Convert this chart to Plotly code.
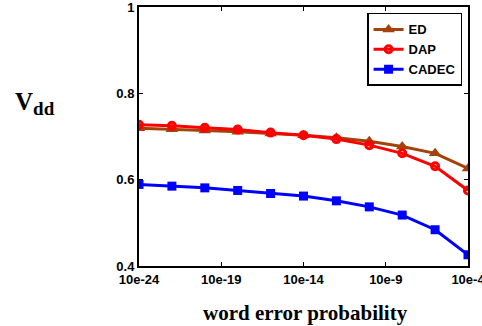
import plotly.graph_objects as go

x_vals = [1e-24, 1e-22, 1e-20, 1e-18, 1e-16, 1e-14, 1e-12, 1e-10, 1e-8, 1e-6, 1e-4]
ed = [0.719, 0.717, 0.714, 0.711, 0.707, 0.703, 0.697, 0.689, 0.677, 0.661, 0.626]
dap = [0.727, 0.725, 0.720, 0.716, 0.709, 0.703, 0.694, 0.680, 0.661, 0.631, 0.575]
cadec = [0.589, 0.585, 0.581, 0.575, 0.568, 0.562, 0.551, 0.537, 0.518, 0.484, 0.426]
x_tickvals = [1e-24, 1e-19, 1e-14, 1e-9, 1e-4]
x_ticktext = ["10e-24", "10e-19", "10e-14", "10e-9", "10e-4"]
y_tickvals = [0.4, 0.6, 0.8, 1.0]
y_ticktext = ["0.4", "0.6", "0.8", "1"]

BROWN = "#a3420a"
RED = "#ff0000"
BLUE = "#0000ff"

fig = go.Figure()
fig.add_trace(go.Scatter(x=x_vals, y=ed, name="ED", mode="lines+markers",
                         line=dict(color=BROWN, width=3),
                         marker=dict(symbol="triangle-up", size=11, color=BROWN)))
fig.add_trace(go.Scatter(x=x_vals, y=dap, name="DAP", mode="lines+markers",
                         line=dict(color=RED, width=3),
                         marker=dict(symbol="circle-open", size=7, color=RED,
                                     line=dict(width=3, color=RED))))
fig.add_trace(go.Scatter(x=x_vals, y=cadec, name="CADEC", mode="lines+markers",
                         line=dict(color=BLUE, width=3),
                         marker=dict(symbol="square", size=9, color=BLUE)))

tickfont = dict(family="Liberation Sans", size=13, color="black", weight="bold")

fig.update_layout(
    width=482, height=326,
    margin=dict(l=139, r=14, t=7, b=60, autoexpand=False),
    paper_bgcolor="white", plot_bgcolor="white",
    showlegend=True,
    legend=dict(x=0.982, y=0.977, xanchor="right", yanchor="top",
                bgcolor="white", bordercolor="black", borderwidth=1.5,
                font=dict(family="Liberation Sans", size=13, color="black", weight="bold"),
                tracegroupgap=0, itemwidth=30),
    xaxis=dict(type="log", range=[-24, -4], tickvals=x_tickvals, ticktext=x_ticktext,
               showgrid=False, zeroline=False, showline=True, linecolor="black",
               linewidth=2, mirror="ticks", ticks="inside", ticklen=4, tickwidth=1,
               tickcolor="black", tickfont=tickfont, ticklabeloverflow="allow",
               automargin=False),
    yaxis=dict(range=[0.4, 1.0], tickvals=y_tickvals, ticktext=y_ticktext,
               showgrid=False, zeroline=False, showline=True, linecolor="black",
               linewidth=2, mirror="ticks", ticks="inside", ticklen=4, tickwidth=1,
               tickcolor="black", tickfont=tickfont, ticklabeloverflow="allow",
               automargin=False),
    annotations=[
        dict(text="word error probability", xref="paper", yref="paper",
             x=0.505, y=-0.181, xanchor="center", yanchor="middle", showarrow=False,
             font=dict(family="Liberation Serif", size=21, color="black", weight="bold")),
        dict(text="V<sub><span style='font-size:19px'>dd</span></sub>", xref="paper", yref="paper",
             x=-0.383, y=0.629, xanchor="left", yanchor="middle", showarrow=False,
             font=dict(family="Liberation Serif", size=25, color="black", weight="bold")),
    ],
)

fig.write_html("out.html", config={"displayModeBar": False},
               post_script="document.body.style.margin='0';document.body.style.overflow='hidden';")
